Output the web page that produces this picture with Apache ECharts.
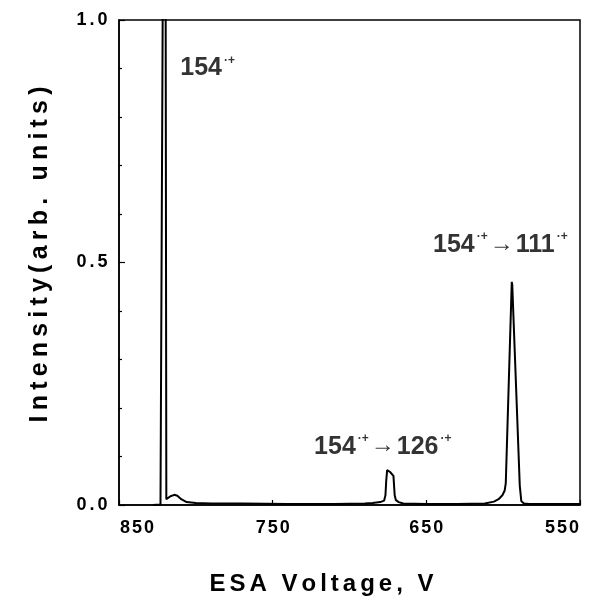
<!DOCTYPE html>
<html>
<head>
<meta charset="utf-8">
<script src="https://cdn.jsdelivr.net/npm/echarts@6/dist/echarts.min.js"></script>
<style>
html,body{margin:0;padding:0;background:#fff;}
#c{width:602px;height:610px;}
</style>
</head>
<body>
<div id="c"></div>
<script>
// ESA voltage (V) and intensity (arb. units)
var volts = [828, 823, 821.8, 821.3, 819.7, 819.2, 818.2, 816.5, 814, 812, 809.5, 806, 800, 790, 770, 740, 710, 690, 685, 680, 677.5, 676.6, 676.1, 675.5, 674.6, 673.6, 672.3, 671.4, 670.6, 669.8, 668, 665, 650, 630, 612, 606, 603, 600.5, 599, 598.3, 594.4, 594.1, 589.2, 588.2, 586.5, 583, 570, 550];
var intensity = [0, 0.001, 0.003, 1.2, 1.2, 0.012, 0.013, 0.018, 0.021, 0.019, 0.012, 0.006, 0.004, 0.003, 0.003, 0.002, 0.002, 0.003, 0.004, 0.006, 0.009, 0.02, 0.05, 0.072, 0.073, 0.068, 0.068, 0.06, 0.02, 0.01, 0.006, 0.003, 0.002, 0.002, 0.003, 0.007, 0.012, 0.02, 0.03, 0.045, 0.46, 0.455, 0.04, 0.008, 0.003, 0.002, 0.002, 0.002];

// peak annotations: position (V, intensity), parent ion, fragment ion
var annotX = [792, 601.5, 678];
var annotY = [0.90, 0.536, 0.12];
var annotParent = ['154', '154', '154'];
var annotFragment = ['', '111', '126'];

// axis ticks
var xTickValues = [850, 750, 650, 550];
var yTickValues = [0.0, 0.5, 1.0];

var xTitle = 'ESA Voltage, V';
var yTitle = 'Intensity(arb. units)';

var FONT = 'Liberation Sans, Arial, Helvetica, sans-serif';

function spaced(str, key) {
  return str.split('').map(function (ch) { return '{' + key + '|' + ch + '}'; }).join('');
}

var lineData = volts.map(function (v, i) { return [v, intensity[i]]; });
var annotData = annotX.map(function (v, i) { return [v, annotY[i], annotParent[i], annotFragment[i]]; });

var chart = echarts.init(document.getElementById('c'), null, {renderer: 'canvas'});
chart.setOption({
  animation: false,
  backgroundColor: '#fff',
  grid: {
    left: 119, right: 22, top: 20, bottom: 105,
    show: true, borderColor: '#000', borderWidth: 1.5, backgroundColor: 'transparent'
  },
  xAxis: {
    type: 'value',
    min: xTickValues[xTickValues.length - 1],
    max: xTickValues[0],
    interval: 100,
    inverse: true,
    axisLine: {show: true, onZero: false, lineStyle: {color: '#000', width: 1.5}},
    axisTick: {show: true, inside: true, length: 5, lineStyle: {color: '#000', width: 1.2}},
    splitLine: {show: false},
    axisLabel: {
      color: '#000', fontFamily: FONT, fontWeight: 'bold', fontSize: 18, margin: 14,
      alignMinLabel: 'right', alignMaxLabel: 'left',
      formatter: function (v) { return spaced(String(v), 't'); },
      rich: {t: {fontFamily: FONT, fontWeight: 'bold', fontSize: 18, color: '#000', padding: [0, 1, 0, 1]}}
    },
    name: spaced(xTitle, 'x'),
    nameLocation: 'middle',
    nameGap: 67,
    nameTextStyle: {
      padding: [0, 56, 0, 0],
      rich: {x: {fontFamily: FONT, fontWeight: 'bold', fontSize: 24, color: '#000', padding: [0, 2, 0, 2]}}
    }
  },
  yAxis: {
    type: 'value',
    min: 0, max: 1, interval: 0.5,
    axisLine: {show: true, onZero: false, lineStyle: {color: '#000', width: 1.5}},
    axisTick: {show: true, inside: true, length: 6, lineStyle: {color: '#000', width: 1.2}},
    minorTick: {show: true, splitNumber: 5, length: 3, lineStyle: {color: '#000', width: 1.2}},
    splitLine: {show: false},
    minorSplitLine: {show: false},
    axisLabel: {
      color: '#000', fontFamily: FONT, fontWeight: 'bold', fontSize: 18, margin: 10,
      formatter: function (v) {
        var s = yTickValues.filter(function (t) { return Math.abs(t - v) < 1e-9; }).length ? v.toFixed(1) : '';
        return spaced(s, 't');
      },
      rich: {t: {fontFamily: FONT, fontWeight: 'bold', fontSize: 18, color: '#000', padding: [0, 1.5, 0, 1.5]}}
    },
    name: spaced(yTitle, 'y'),
    nameLocation: 'middle',
    nameRotate: 90,
    nameGap: 66,
    nameTextStyle: {
      padding: [0, 0, 0, 16],
      rich: {y: {fontFamily: FONT, fontWeight: 'bold', fontSize: 25, color: '#000', padding: [0, 2.6, 0, 2.6]}}
    }
  },
  series: [
    {
      type: 'line',
      data: lineData,
      showSymbol: false,
      symbol: 'none',
      clip: true,
      lineStyle: {color: '#000', width: 2},
      z: 3
    },
    {
      type: 'scatter',
      data: annotData,
      symbolSize: 0,
      silent: true,
      label: {
        show: true,
        position: 'inside',
        formatter: function (p) {
          var d = p.data;
          var s = '{n|' + d[2] + '}{s|·+}';
          if (d[3]) s += '{a|→}{n|' + d[3] + '}{s|·+}';
          return s;
        },
        rich: {
          n: {fontFamily: FONT, fontWeight: 'bold', fontSize: 25, color: '#000', padding: [0, 1, 0, 1]},
          s: {fontFamily: FONT, fontWeight: 'bold', fontSize: 12, color: '#000', padding: [0, 2, 16, 1]},
          a: {fontFamily: FONT, fontWeight: 'normal', fontSize: 24, color: '#000', padding: [0, 1, 2, 0]}
        }
      },
      z: 4
    }
  ]
});
</script>
</body>
</html>
